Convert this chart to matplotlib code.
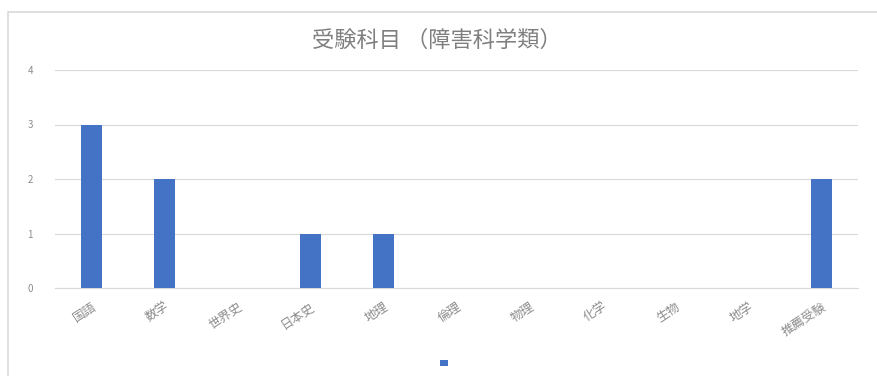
import matplotlib
matplotlib.use("Agg")
import matplotlib.pyplot as plt
from matplotlib.patches import Rectangle

plt.rcParams['font.family'] = ['Noto Sans CJK JP', 'DejaVu Sans']

title = "受験科目 （障害科学類）"
subjects = ["国語", "数学", "世界史", "日本史", "地理", "倫理", "物理", "化学", "生物", "地学", "推薦受験"]
counts = [3, 2, 0, 1, 1, 0, 0, 0, 0, 0, 2]
yticks = [0, 1, 2, 3, 4]

bar_color = "#4472C4"
text_color = "#8C8C8C"
grid_color = "#D9D9D9"

fig = plt.figure(figsize=(8.77, 3.76), dpi=100)
W, H = 877, 376
ax = fig.add_axes([55 / W, 88 / H, (858 - 55) / W, (288 - 70) / H])

x = list(range(len(subjects)))
ax.bar(x, counts, width=0.3, color=bar_color, label=" ", zorder=3)

ax.set_xlim(-0.5, len(subjects) - 0.5)
ax.set_ylim(0, 4)
ax.set_yticks(yticks)
ax.set_yticklabels([str(v) for v in yticks], fontsize=7, color=text_color)
ax.set_xticks(x)
ax.set_xticklabels(subjects, rotation=33, ha="right", rotation_mode="anchor",
                   fontsize=9, color=text_color)
ax.tick_params(axis="x", length=0, pad=9)
ax.tick_params(axis="y", length=0, pad=16)
ax.yaxis.grid(True, color=grid_color, linewidth=0.8, zorder=0)
for s in ax.spines.values():
    s.set_visible(False)
ax.spines["bottom"].set_visible(True)
ax.spines["bottom"].set_color(grid_color)

fig.text(437 / W, 1 - 40 / H, title, ha="center", va="center", fontsize=16, color="#7F7F7F")

fig.legend(loc="center", bbox_to_anchor=(450 / W, 1 - 364 / H), frameon=False,
           handlelength=0.7, handleheight=0.5, fontsize=8)

# chart frame
fig.patches.append(Rectangle((8 / W, -0.02), (W + 10) / W, 1 - 12 / H + 0.02,
                             transform=fig.transFigure, fill=False,
                             edgecolor="#D9D9D9", linewidth=1.2))

fig.savefig("out.png", dpi=100, facecolor="white")
